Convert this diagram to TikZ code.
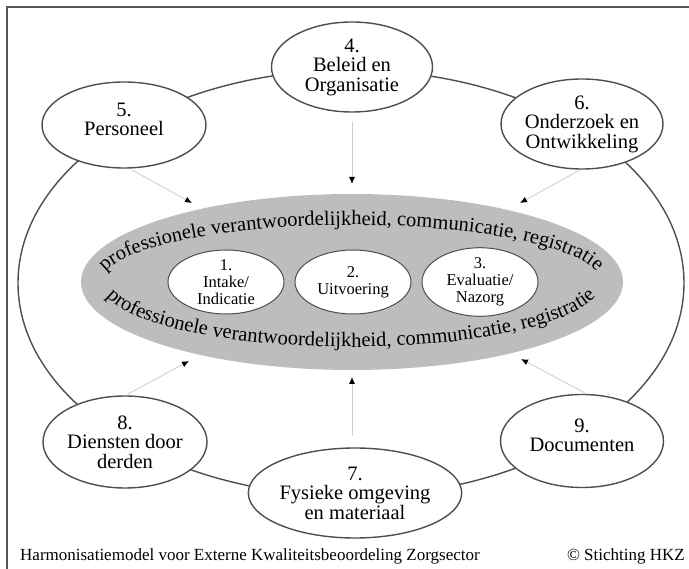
\documentclass[tikz,border=0pt]{standalone}
\usepackage{fontspec}
\setmainfont{Liberation Serif}
\usetikzlibrary{shapes.geometric,arrows.meta,decorations.text}
\definecolor{rimgray}{HTML}{4E4E4E}
\definecolor{framegray}{HTML}{555555}
\definecolor{coregray}{HTML}{BDBDBD}
\definecolor{feedgray}{HTML}{CFCFCF}
\begin{document}
\begin{tikzpicture}[x=1pt,y=1pt,
  outerarea/.style={ellipse,draw=rimgray,line width=1.4pt,fill=white,inner sep=0pt,
    align=center,font=\fontsize{20.5}{19.5}\selectfont},
  phase/.style={ellipse,draw=rimgray,line width=1pt,fill=white,inner sep=0pt,
    align=center,font=\fontsize{16.5}{17}\selectfont,minimum width=116,minimum height=64},
  feed/.style={draw=feedgray,line width=0.9pt,-{Latex[color=black,length=7pt,width=6pt]}},
  arctext/.style={decorate,decoration={text along path,text align=center,
    text={|\fontsize{20.5}{20.5}\selectfont|professionele verantwoordelijkheid, communicatie, registratie}}}
]
\useasboundingbox (0,0) rectangle (689,-569);

% frame (top and left edge)
\draw[framegray,line width=1.8pt] (7,-569) -- (7,-7) -- (689,-7);

% ring through the nine areas
\draw[rimgray,line width=1.4pt] (351,-283) ellipse[x radius=333,y radius=213];

% central process ellipse
\node[ellipse,fill=coregray,minimum width=542,minimum height=176,inner sep=0pt] (core) at (352,-282) {};
\path[arctext] (101,-283) arc[start angle=180,end angle=0,x radius=250,y radius=58];
\path[arctext] (101,-283) arc[start angle=180,end angle=360,x radius=250,y radius=64];

\node[phase] (p1) at (226,-282) {1.\\Intake/\\Indicatie};
\node[phase] (p2) at (353,-282) {2.\\Uitvoering};
\node[phase] (p3) at (480,-282) {3.\\Evaluatie/\\Nazorg};

% surrounding areas
\node[outerarea,minimum width=161,minimum height=90] (a4) at (352,-67) {4.\\Beleid en\\Organisatie};
\node[outerarea,minimum width=164,minimum height=86] (a5) at (124,-125) {5.\\Personeel\\[-8pt]\mbox{}};
\node[outerarea,minimum width=162,minimum height=90] (a6) at (582,-124) {6.\\Onderzoek en\\Ontwikkeling};
\node[outerarea,minimum width=164,minimum height=92] (a8) at (125,-442) {8.\\Diensten door\\derden};
\node[outerarea,minimum width=163,minimum height=93] (a9) at (582,-441) {9.\\Documenten\\[-8pt]\mbox{}};
\node[outerarea,minimum width=164,minimum height=90] (a7) at (355,-493) {7.\\Fysieke omgeving\\en materiaal};

% influence arrows towards the core
\coordinate (s4) at (352,-122); \coordinate (t4) at (352,-184);
\coordinate (s5) at (132,-170); \coordinate (t5) at (192,-203);
\coordinate (s6) at (580,-170); \coordinate (t6) at (520,-203);
\coordinate (s8) at (128,-394); \coordinate (t8) at (189,-361);
\coordinate (s7) at (352,-436); \coordinate (t7) at (352,-377);
\coordinate (s9) at (585,-393); \coordinate (t9) at (521,-359);
\foreach \k in {4,5,6,7,8,9} \draw[feed] (s\k) -- (t\k);

% caption
\node[anchor=base west,inner sep=0pt,font=\fontsize{17}{17}\selectfont] (cap) at (20,-561)
  {Harmonisatiemodel voor Externe Kwaliteitsbeoordeling Zorgsector};
\node[anchor=base east,inner sep=0pt,font=\fontsize{17}{17}\selectfont] (copy) at (685,-561)
  {© Stichting HKZ};
\end{tikzpicture}
\end{document}
